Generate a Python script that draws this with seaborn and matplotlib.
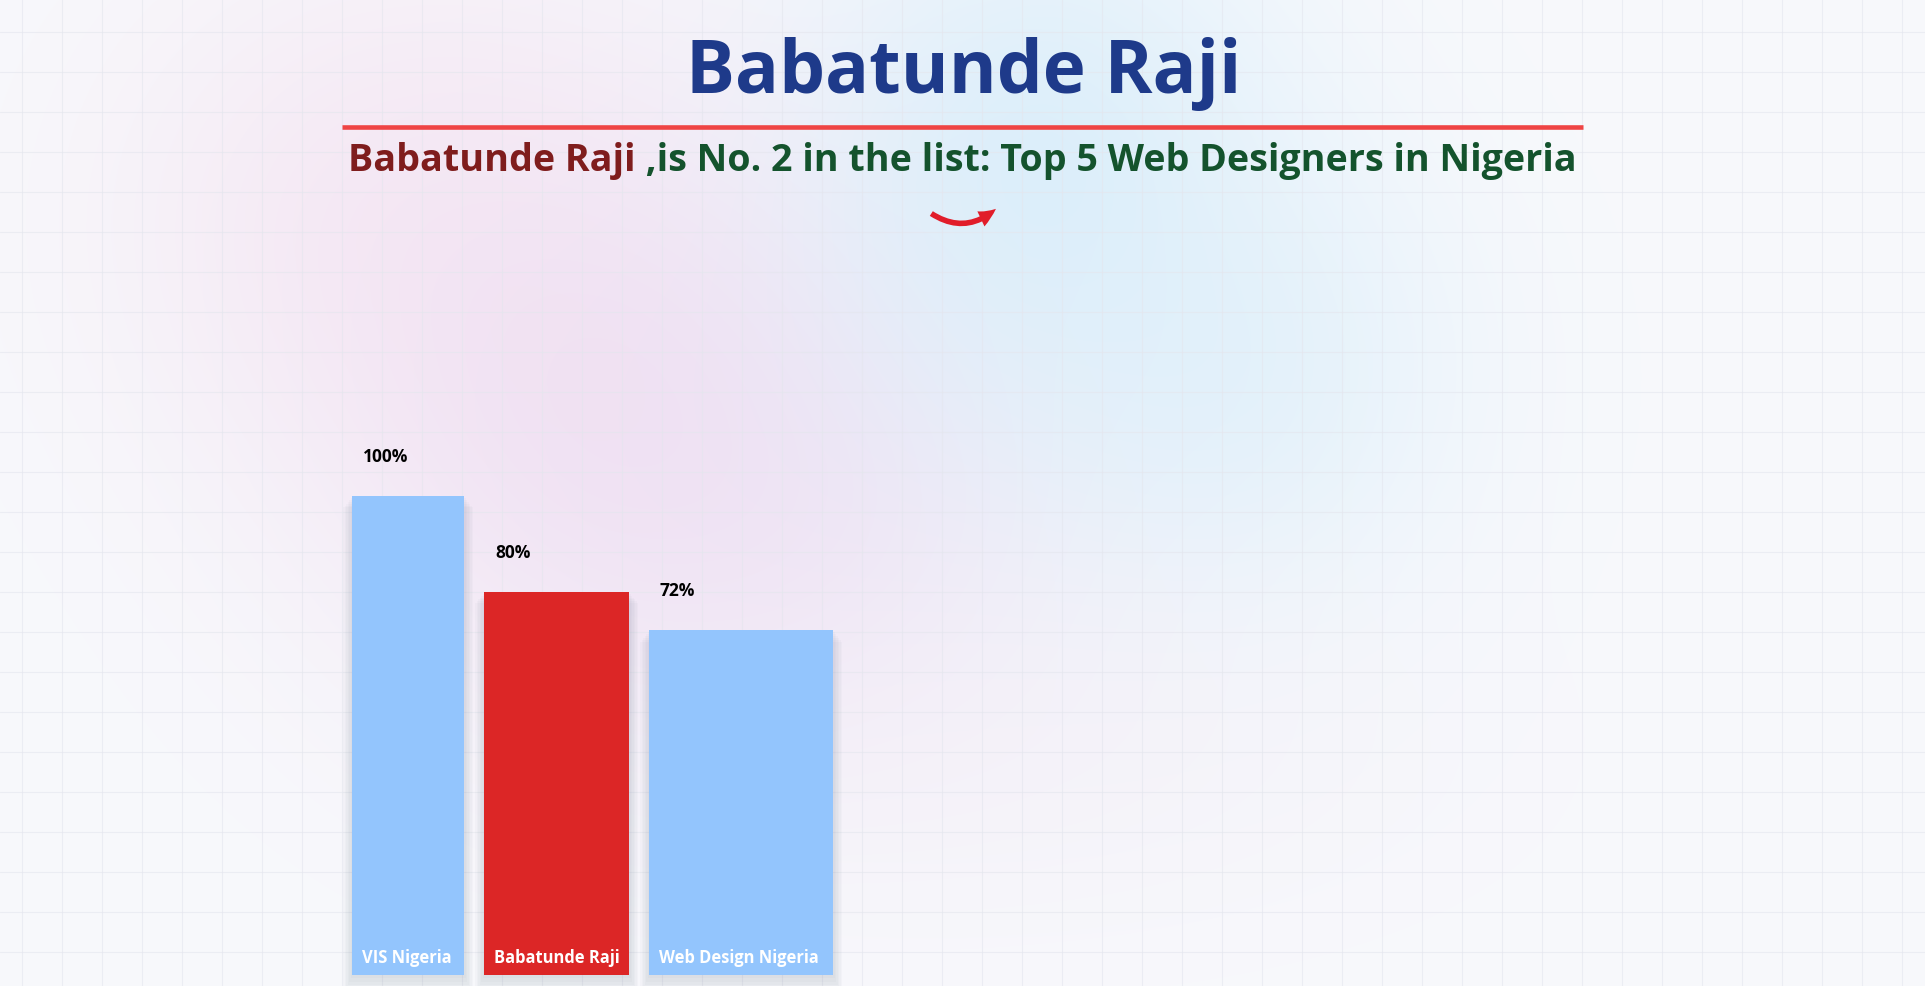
import numpy as np
import pandas as pd
import matplotlib.pyplot as plt
import seaborn as sns
from matplotlib.patches import FancyArrowPatch, Rectangle

# data
names = ["VIS Nigeria", "Babatunde Raji", "Web Design Nigeria"]
scores = [100, 80, 72]
highlight = "Babatunde Raji"

title = "Babatunde Raji"
sub_lead = "Babatunde Raji"
sub_rest = " ,is No. 2 in the list: Top 5 Web Designers in Nigeria"

W, H = 1925, 987
bar_px = [112, 145, 184]   # bar widths in pixels (style)
gap_px = 20

sns.set_style("white")
plt.rcParams["font.family"] = ["Open Sans", "DejaVu Sans"]

fig = plt.figure(figsize=(W / 100, H / 100), dpi=100)

# ---- background: soft gradient + grid
bg = fig.add_axes([0, 0, 1, 1])
yy, xx = np.mgrid[0:H, 0:W]
img = np.ones((H, W, 3)) * np.array([248, 249, 252]) / 255


def blob(cx, cy, sx, sy, rgb, strength):
    global img
    a = strength * np.exp(-(((xx - cx) / sx) ** 2 + ((yy - cy) / sy) ** 2) / 2)
    img = img * (1 - a[..., None]) + np.array(rgb) / 255 * a[..., None]


blob(380, 200, 200, 180, (244, 222, 238), 0.45)
blob(620, 400, 230, 220, (238, 214, 238), 0.6)
blob(800, 520, 200, 160, (236, 220, 242), 0.45)
blob(1040, 170, 170, 190, (212, 236, 250), 0.75)
blob(1230, 380, 170, 170, (218, 238, 250), 0.6)
blob(1050, 760, 300, 130, (242, 236, 246), 0.35)

bg.imshow(img, extent=(0, W, H, 0), aspect="auto", zorder=0)
for gx in np.arange(21.5, W, 40):
    bg.axvline(gx, color="#e4e6ee", lw=0.8, alpha=0.6, zorder=1)
for gy in np.arange(33, H, 40):
    bg.axhline(gy, color="#e4e6ee", lw=0.8, alpha=0.6, zorder=1)
bg.set_xlim(0, W)
bg.set_ylim(H, 0)
bg.axis("off")

# ---- bars
df = pd.DataFrame({"name": names, "score": scores})
palette = {n: ("#dc2626" if n == highlight else "#93c5fd") for n in names}

ax_left, ax_bottom = 352, 976
total_px = sum(bar_px) + gap_px * (len(bar_px) - 1)
ax = fig.add_axes([ax_left / W, (H - ax_bottom) / H, total_px / W, 479 / H])
ax.patch.set_alpha(0)
sns.barplot(data=df, x="name", y="score", hue="name", palette=palette,
            legend=False, saturation=1, ax=ax, zorder=3)
ax.set_xlim(0, total_px)
ax.set_ylim(0, 100)
ax.axis("off")

fig.canvas.draw()
rend = fig.canvas.get_renderer()

lefts = np.concatenate([[0], np.cumsum(np.array(bar_px) + gap_px)[:-1]])
bars = [b for c in ax.containers for b in c]

# one label size that keeps 10px padding inside every bar
probe = [ax.text(0, 0, n, fontsize=13, fontweight="bold") for n in names]
label_size = min(13 * (w - 20) / p.get_window_extent(rend).width
                 for p, w in zip(probe, bar_px))
for p in probe:
    p.remove()

for bar, left, w, name, v in zip(bars, lefts, bar_px, names, scores):
    bar.set_x(left)
    bar.set_width(w)
    bar.set_linewidth(0)
    # soft shadow
    for k in range(7):
        ax.add_patch(Rectangle((left - k * 1.5, -k * 0.7), w + k * 3, v + k * 0.3,
                               color="#64748b", alpha=0.03, lw=0, zorder=2,
                               clip_on=False))
    ax.annotate(f"{v}%", xy=(left, v), xytext=(11, 35), textcoords="offset pixels",
                ha="left", va="baseline", fontsize=12.5, fontweight="bold",
                color="black", annotation_clip=False)
    ax.annotate(name, xy=(left, 0), xytext=(10, 13), textcoords="offset pixels",
                ha="left", va="baseline", fontsize=label_size, fontweight="bold",
                color="white", zorder=5, annotation_clip=False)

# ---- header
def fit(t, target):
    w = t.get_window_extent(rend).width
    t.set_fontsize(t.get_fontsize() * target / w)


tt = bg.text(963.5, 93, title, ha="center", va="baseline", fontsize=54,
             fontweight="bold", color="#1e3a8a", zorder=4)
fit(tt, 555)

bg.plot([342, 1583], [127.5, 127.5], color="#ef4444", lw=3.3,
        solid_capstyle="butt", zorder=4)

full = bg.text(0, 0, sub_lead + sub_rest, fontsize=25, fontweight="bold")
w_full = full.get_window_extent(rend).width
size = 25 * 1229 / w_full
full.remove()
t1 = bg.text(348, 171.5, sub_lead, ha="left", va="baseline", fontsize=size,
             fontweight="bold", color="#7f1d1d", zorder=4)
fig.canvas.draw()
x_end = bg.transData.inverted().transform(
    (t1.get_window_extent(rend).x1, 0))[0]
bg.text(x_end, 171.5, sub_rest, ha="left", va="baseline", fontsize=size,
        fontweight="bold", color="#14532d", zorder=4)

arrow = FancyArrowPatch((929, 213), (998, 208),
                        connectionstyle="arc3,rad=0.4",
                        arrowstyle="simple,head_length=0.65,head_width=0.6,tail_width=0.2",
                        mutation_scale=20, color="#e11d2a", lw=0, zorder=4)
bg.add_patch(arrow)

fig.savefig("out.png", dpi=100)
